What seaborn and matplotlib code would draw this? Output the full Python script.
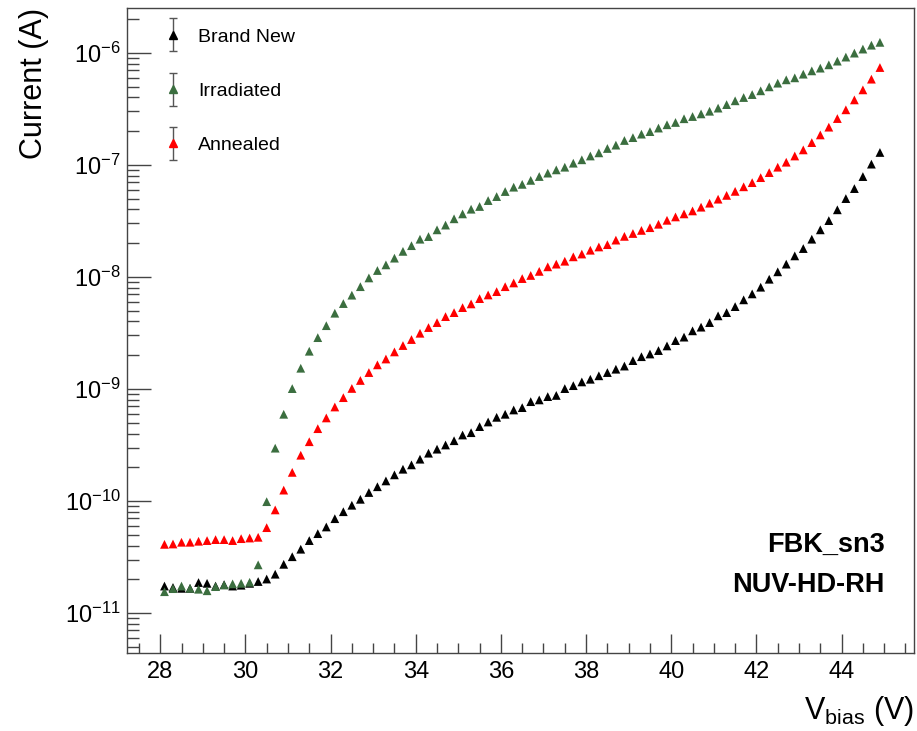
import numpy as np
import pandas as pd
import matplotlib
matplotlib.use("Agg")
import matplotlib.pyplot as plt
import seaborn as sns
from matplotlib.legend_handler import HandlerErrorbar
from matplotlib.ticker import LogLocator, NullFormatter, FixedLocator, LogFormatterSciNotation

# ---------------- data ----------------
vbias = [28.1, 28.3, 28.5, 28.7, 28.9, 29.1, 29.3, 29.5, 29.7, 29.9,
         30.1, 30.3, 30.5, 30.7, 30.9, 31.1, 31.3, 31.5, 31.7, 31.9,
         32.1, 32.3, 32.5, 32.7, 32.9, 33.1, 33.3, 33.5, 33.7, 33.9,
         34.1, 34.3, 34.5, 34.7, 34.9, 35.1, 35.3, 35.5, 35.7, 35.9,
         36.1, 36.3, 36.5, 36.7, 36.9, 37.1, 37.3, 37.5, 37.7, 37.9,
         38.1, 38.3, 38.5, 38.7, 38.9, 39.1, 39.3, 39.5, 39.7, 39.9,
         40.1, 40.3, 40.5, 40.7, 40.9, 41.1, 41.3, 41.5, 41.7, 41.9,
         42.1, 42.3, 42.5, 42.7, 42.9, 43.1, 43.3, 43.5, 43.7, 43.9,
         44.1, 44.3, 44.5, 44.7, 44.9]

brand_new = [1.74e-11, 1.69e-11, 1.66e-11, 1.66e-11, 1.87e-11, 1.84e-11, 1.74e-11, 1.79e-11, 1.74e-11, 1.77e-11,
             1.84e-11, 1.91e-11, 2.01e-11, 2.22e-11, 2.72e-11, 3.18e-11, 3.71e-11, 4.43e-11, 5.11e-11, 5.86e-11,
             6.95e-11, 8.02e-11, 9.16e-11, 1.035e-10, 1.19e-10, 1.34e-10, 1.51e-10, 1.71e-10, 1.92e-10, 2.10e-10,
             2.36e-10, 2.67e-10, 2.90e-10, 3.16e-10, 3.45e-10, 3.88e-10, 4.07e-10, 4.61e-10, 5.07e-10, 5.58e-10,
             5.94e-10, 6.49e-10, 6.81e-10, 7.70e-10, 7.98e-10, 8.54e-10, 8.75e-10, 1.007e-9, 1.07e-9, 1.155e-9,
             1.22e-9, 1.31e-9, 1.40e-9, 1.50e-9, 1.60e-9, 1.79e-9, 1.94e-9, 2.05e-9, 2.20e-9, 2.42e-9,
             2.70e-9, 2.90e-9, 3.30e-9, 3.56e-9, 3.91e-9, 4.49e-9, 4.80e-9, 5.43e-9, 6.24e-9, 7.05e-9,
             8.09e-9, 9.53e-9, 1.11e-8, 1.30e-8, 1.54e-8, 1.79e-8, 2.17e-8, 2.63e-8, 3.18e-8, 3.97e-8,
             5.00e-8, 6.14e-8, 7.86e-8, 1.015e-7, 1.29e-7]

irradiated = [1.55e-11, 1.65e-11, 1.74e-11, 1.66e-11, 1.63e-11, 1.58e-11, 1.72e-11, 1.78e-11, 1.82e-11, 1.84e-11,
              1.88e-11, 2.69e-11, 9.86e-11, 2.96e-10, 5.94e-10, 1.007e-9, 1.53e-9, 2.17e-9, 2.87e-9, 3.67e-9,
              4.74e-9, 5.78e-9, 6.87e-9, 8.18e-9, 9.79e-9, 1.14e-8, 1.28e-8, 1.47e-8, 1.69e-8, 1.90e-8,
              2.17e-8, 2.29e-8, 2.63e-8, 2.90e-8, 3.30e-8, 3.65e-8, 4.02e-8, 4.25e-8, 4.80e-8, 5.21e-8,
              5.78e-8, 6.32e-8, 6.70e-8, 7.27e-8, 7.87e-8, 8.44e-8, 9.02e-8, 9.53e-8, 1.035e-7, 1.11e-7,
              1.20e-7, 1.28e-7, 1.40e-7, 1.50e-7, 1.65e-7, 1.75e-7, 1.88e-7, 1.98e-7, 2.13e-7, 2.28e-7,
              2.39e-7, 2.58e-7, 2.70e-7, 2.85e-7, 3.01e-7, 3.21e-7, 3.45e-7, 3.73e-7, 3.99e-7, 4.24e-7,
              4.58e-7, 4.97e-7, 5.36e-7, 5.74e-7, 5.98e-7, 6.45e-7, 6.90e-7, 7.30e-7, 7.81e-7, 8.43e-7,
              9.16e-7, 9.94e-7, 1.08e-6, 1.17e-6, 1.24e-6]

annealed = [4.10e-11, 4.13e-11, 4.28e-11, 4.28e-11, 4.37e-11, 4.43e-11, 4.52e-11, 4.52e-11, 4.43e-11, 4.61e-11,
            4.67e-11, 4.74e-11, 5.78e-11, 8.32e-11, 1.25e-10, 1.80e-10, 2.56e-10, 3.38e-10, 4.42e-10, 5.51e-10,
            6.90e-10, 8.36e-10, 1.01e-9, 1.19e-9, 1.40e-9, 1.64e-9, 1.85e-9, 2.14e-9, 2.44e-9, 2.76e-9,
            3.14e-9, 3.53e-9, 3.91e-9, 4.42e-9, 4.80e-9, 5.32e-9, 5.74e-9, 6.40e-9, 6.90e-9, 7.39e-9,
            8.18e-9, 8.83e-9, 9.66e-9, 1.03e-8, 1.12e-8, 1.23e-8, 1.30e-8, 1.38e-8, 1.51e-8, 1.60e-8,
            1.73e-8, 1.85e-8, 1.94e-8, 2.13e-8, 2.30e-8, 2.44e-8, 2.60e-8, 2.75e-8, 2.95e-8, 3.20e-8,
            3.43e-8, 3.65e-8, 3.88e-8, 4.19e-8, 4.55e-8, 4.94e-8, 5.34e-8, 5.80e-8, 6.37e-8, 6.94e-8,
            7.69e-8, 8.53e-8, 9.53e-8, 1.056e-7, 1.20e-7, 1.36e-7, 1.58e-7, 1.85e-7, 2.17e-7, 2.59e-7,
            3.10e-7, 3.80e-7, 4.67e-7, 5.82e-7, 7.39e-7]

series_names = ["Brand New", "Irradiated", "Annealed"]
series_colors = {"Brand New": "#000000", "Irradiated": "#3b6e3f", "Annealed": "#ff0000"}
x_ticks = [28, 30, 32, 34, 36, 38, 40, 42, 44]
y_ticks = [1e-11, 1e-10, 1e-9, 1e-8, 1e-7, 1e-6]
annot_lines = ["FBK_sn3", "NUV-HD-RH"]

df = pd.concat([
    pd.DataFrame({"V": vbias, "I": brand_new, "Sample": "Brand New"}),
    pd.DataFrame({"V": vbias, "I": irradiated, "Sample": "Irradiated"}),
    pd.DataFrame({"V": vbias, "I": annealed, "Sample": "Annealed"}),
], ignore_index=True)

# ---------------- style ----------------
sns.set_style("ticks")
plt.rcParams["font.family"] = ["Liberation Sans", "DejaVu Sans"]
plt.rcParams["mathtext.fontset"] = "custom"
plt.rcParams["mathtext.rm"] = "Liberation Sans"
plt.rcParams["mathtext.it"] = "Liberation Sans:italic"
plt.rcParams["mathtext.bf"] = "Liberation Sans:bold"
plt.rcParams["text.color"] = "black"
plt.rcParams["axes.labelcolor"] = "black"
plt.rcParams["xtick.color"] = "black"
plt.rcParams["ytick.color"] = "black"

fig = plt.figure(figsize=(9.17, 7.31), dpi=100)
ax = fig.add_axes([127 / 917, 78 / 731, 787 / 917, 645 / 731])

sns.scatterplot(data=df, x="V", y="I", hue="Sample", hue_order=series_names,
                palette=series_colors, marker="^", s=40, linewidth=0,
                legend=False, ax=ax, zorder=3)

ax.set_yscale("log")
ax.set_xlim(27.22, 45.7)
ax.set_ylim(10 ** -11.357, 10 ** -5.60)

ax.set_xticks(x_ticks)
ax.set_xticklabels([str(t) for t in x_ticks])
ax.set_xticks(np.arange(27.5, 45.6, 0.5), minor=True)
ax.yaxis.set_major_locator(FixedLocator(y_ticks))
ax.yaxis.set_major_formatter(LogFormatterSciNotation())
ax.yaxis.set_minor_locator(LogLocator(base=10, subs=np.arange(2, 10), numticks=20))
ax.yaxis.set_minor_formatter(NullFormatter())

for side in ["left", "bottom", "top", "right"]:
    ax.spines[side].set_color("#444444")
    ax.spines[side].set_linewidth(1.0)

ax.tick_params(axis="both", which="both", direction="in", color="#444444",
               labelcolor="black", top=False, right=False, width=1.0)
ax.tick_params(axis="x", which="major", length=13.5, labelsize=17, pad=6)
ax.tick_params(axis="x", which="minor", length=7)
ax.tick_params(axis="y", which="major", length=17, labelsize=17, pad=4.5)
ax.tick_params(axis="y", which="minor", length=8.5)

ax.set_xlabel(r"V$_{\mathregular{bias}}$ (V)", fontsize=22, loc="right", color="black")
ax.xaxis.set_label_coords(1.0, -0.063)
ax.xaxis.label.set_verticalalignment("top")
ax.set_ylabel("Current (A)", fontsize=22, loc="top", color="black")
ax.yaxis.set_label_coords(-0.099, 1.0)

# legend with error-bar style entries
handles = []
for name in series_names:
    eb = ax.errorbar([np.nan], [np.nan], yerr=[1e-12], fmt="^",
                     color=series_colors[name], ecolor="#555555", elinewidth=1.0,
                     capsize=3, capthick=1.0, markersize=6, label=name)
    handles.append(eb)
leg = ax.legend(handles=handles, labels=series_names, loc="upper left",
                bbox_to_anchor=(0.0233, 0.996), frameon=False, fontsize=14,
                handlelength=1.0, handletextpad=0.8, labelspacing=1.88,
                handler_map={type(handles[0]): HandlerErrorbar(yerr_size=0.85)})
for t in leg.get_texts():
    t.set_color("black")

# annotation text
fig.text(885 / 917, (731 - 552.3) / 731, annot_lines[0], ha="right", va="baseline",
         fontsize=19.5, fontweight="bold", color="black")
fig.text(885 / 917, (731 - 591.5) / 731, annot_lines[1], ha="right", va="baseline",
         fontsize=19.5, fontweight="bold", color="black")

fig.savefig("out.png", dpi=100)
